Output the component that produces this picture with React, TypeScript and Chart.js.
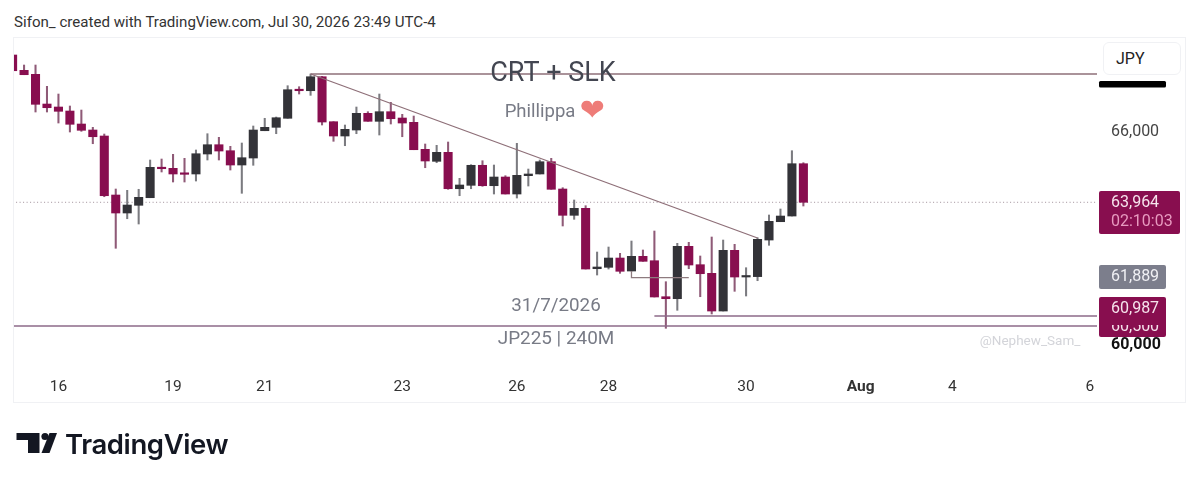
import React, { useEffect, useRef } from "react";
import { Chart, registerables } from "chart.js";

Chart.register(...registerables);

const opens = [68113,67682,67569,66732,66648,66535,66169,66000,65831,64169,63662,63879,64093,64949,64921,64780,64761,65324,65586,65417,65014,65211,65980,66076,66330,67127,67107,67501,66234,65831,66000,66470,66245,66516,66338,66217,65456,65118,65372,64346,64442,65006,64431,64676,64197,64713,64761,65107,64338,63597,63794,62093,62132,62394,62028,62442,62318,61304,61248,62724,62206,61963,60901,62611,61859,61870,62901,63417,63577,65051];
const closes = [67670,67558,66724,66628,66527,66161,65992,65811,64149,63662,63887,64104,64949,64910,64761,64752,65332,65586,65408,65014,65220,66000,66076,66346,67135,67107,67501,66225,65831,66020,66470,66245,66516,66318,66197,65445,65127,65372,64346,64451,65006,64431,64676,64197,64724,64761,65107,64330,63597,63794,62084,62141,62394,62020,62442,62301,61296,61248,62724,62197,61952,60901,62611,61859,61887,62921,63428,63577,65051,63964];
const highs = [68113,67831,67831,67231,67014,66676,66563,66076,65887,64338,64301,64330,65155,65183,65315,65203,65437,65896,65794,65541,65634,66113,66330,66366,67248,67220,67578,67510,66234,66141,66648,66516,67014,66780,66442,66394,65606,65569,65662,64639,65022,65135,65014,64713,65625,64901,65155,65203,64375,64028,63868,62563,62704,62527,62873,62620,63155,61727,62808,62836,62451,62986,62901,62780,62121,62966,63606,63775,65417,65079];
const lows = [67670,67558,66507,66507,66197,65944,65963,65614,64121,62668,63501,63352,64093,64817,64535,64535,64563,65155,65155,64873,64217,65006,65980,65896,66330,67014,66977,66141,65682,65558,65896,66245,65859,66169,65811,65445,64938,65079,64330,64149,64346,64414,64197,64197,64084,64422,64761,64330,63296,63484,62084,61915,62084,61963,62028,62301,61296,60414,60921,62093,61304,60817,60901,61456,61324,61755,62752,63417,63577,63859];

const xTickIndexes = [4, 14, 22, 34, 44, 52, 64, 74, 82, 94];
const xTickLabels = ["16", "19", "21", "23", "26", "28", "30", "Aug", "4", "6"];
const yTicks = [60000, 66000];

const lastClose = 63964;
const pdLow = 61889;
const tagPrice = 60987;
const hiddenTagPrice = 60479;

const flatTopPrice = 67578;
const trendEndPrice = 62958;
const sweepLevel = 60760;
const floorLevel = 60479;
const bracketLevel = 61839;
const bracketTop = 62028;

const MAROON = "#880E4F";
const DARK = "#333338";

const fmt = (v: number) => v.toLocaleString("en-US");

const overlay = {
  id: "overlay",
  afterDraw(chart: any) {
    const { ctx, scales } = chart;
    const y = scales.y;
    ctx.save();
    const font = "Roboto, sans-serif";
    const text = (s: string, x: number, yy: number, size: number, color: string, align: CanvasTextAlign = "center", weight = "400") => {
      ctx.font = `${weight} ${size}px ${font}`;
      ctx.fillStyle = color;
      ctx.textAlign = align;
      ctx.textBaseline = "middle";
      ctx.fillText(s, x, yy);
    };
    text("CRT + SLK", 553, 74, 27, "#434651");
    text("Phillippa", 540, 112, 18.5, "#787B86");
    ctx.font = "30px 'DejaVu Sans'";
    ctx.fillStyle = "#EE7C78";
    ctx.textAlign = "center";
    ctx.fillText("\u2764", 592, 112);
    text("31/7/2026", 556, 306, 18.8, "#787B86");
    text("JP225 | 240M", 556, 339, 18.9, "#787B86");
    text("@Nephew_Sam_", 1030, 342, 13.5, "#D3D4D9");

    ctx.fillStyle = "#000000";
    ctx.beginPath();
    ctx.roundRect(1099, 81, 67, 6.5, 1.5);
    ctx.fill();

    ctx.fillStyle = MAROON;
    ctx.beginPath();
    ctx.roundRect(1099, 191, 81, 43, 2);
    ctx.fill();
    text(fmt(lastClose), 1111, y.getPixelForValue(lastClose) + 1, 16, "#F6E3EC", "left");
    text("02:10:03", 1111, y.getPixelForValue(lastClose) + 20, 16, "#E79ABF", "left");

    ctx.fillStyle = "#7C7E8C";
    ctx.beginPath();
    ctx.roundRect(1099, 265, 67, 24, 2);
    ctx.fill();
    text(fmt(pdLow), 1111, y.getPixelForValue(pdLow) + 1, 16, "#F0F0F4", "left");

    ctx.fillStyle = MAROON;
    ctx.beginPath();
    ctx.roundRect(1099, 297, 67, 40, 2);
    ctx.fill();
    text(fmt(tagPrice), 1111, y.getPixelForValue(tagPrice) + 1, 16, "#F6E3EC", "left");
    ctx.save();
    ctx.beginPath();
    ctx.rect(1099, 325, 67, 12);
    ctx.clip();
    text("60,500", 1111, y.getPixelForValue(hiddenTagPrice) + 1, 16, "#F6E3EC", "left");
    ctx.restore();
    ctx.restore();
  },
};

export default function App() {
  const ref = useRef<HTMLCanvasElement | null>(null);

  useEffect(() => {
    if (!ref.current) return;
    const idx = opens.map((_, i) => i);
    const up = (i: number) => closes[i] >= opens[i];
    const chart = new Chart(ref.current, {
      type: "bar",
      plugins: [overlay],
      data: {
        datasets: [
          {
            label: "wicks",
            order: 3,
            data: idx.map((i) => ({ x: i, y: [lows[i], highs[i]] })),
            backgroundColor: idx.map((i) => (up(i) ? "#7B7B80" : "#8F5A77")),
            barThickness: 1.4,
            grouped: false,
            borderSkipped: false,
          },
          {
            label: "bodies",
            order: 2,
            data: idx.map((i) => ({ x: i, y: [Math.min(opens[i], closes[i]), Math.max(opens[i], closes[i])] })),
            backgroundColor: idx.map((i) => (up(i) ? DARK : MAROON)),
            barThickness: 8.4,
            minBarLength: 1.5,
            grouped: false,
            borderSkipped: false,
          },
          {
            type: "line",
            label: "flat top",
            order: 1,
            data: [{ x: 26, y: flatTopPrice }, { x: 95, y: flatTopPrice }],
            borderColor: "#8E6F78",
            borderWidth: 1.3,
            pointRadius: 0,
          },
          {
            type: "line",
            label: "trend",
            order: 1,
            data: [{ x: 26, y: flatTopPrice }, { x: 65, y: trendEndPrice }],
            borderColor: "#8E6F78",
            borderWidth: 1.3,
            pointRadius: 0,
          },
          {
            type: "line",
            label: "last close",
            order: 4,
            data: [{ x: 0, y: lastClose }, { x: 95, y: lastClose }],
            borderColor: "#9F8F99",
            borderWidth: 1,
            borderDash: [1, 2.5],
            pointRadius: 0,
          },
          {
            type: "line",
            label: "sweep",
            order: 1,
            data: [{ x: 56, y: sweepLevel }, { x: 95, y: sweepLevel }],
            borderColor: "#8D6A88",
            borderWidth: 1.3,
            pointRadius: 0,
          },
          {
            type: "line",
            label: "floor",
            order: 1,
            data: [{ x: 0, y: floorLevel }, { x: 95, y: floorLevel }],
            borderColor: "#8D6A88",
            borderWidth: 1.3,
            pointRadius: 0,
          },
          {
            type: "line",
            label: "bracket",
            order: 1,
            data: [{ x: 54, y: bracketTop }, { x: 54, y: bracketLevel }, { x: 59, y: bracketLevel }],
            borderColor: "#8E7B7F",
            borderWidth: 1.3,
            pointRadius: 0,
          },
        ] as any,
      },
      options: {
        animation: false,
        responsive: false,
        layout: { padding: { left: 14, top: 38, right: 14, bottom: 81 } },
        plugins: { legend: { display: false }, tooltip: { enabled: false }, title: { display: false } },
        scales: {
          x: {
            type: "linear",
            offset: false,
            min: 0.122,
            max: 94.62,
            grid: { display: false, drawTicks: false, offset: false },
            border: { display: false },
            afterBuildTicks: (s: any) => {
              s.ticks = xTickIndexes.map((value) => ({ value }));
            },
            afterFit: (s: any) => {
              s.height = 30;
              s.paddingLeft = 0;
              s.paddingRight = 0;
            },
            ticks: {
              autoSkip: false,
              maxRotation: 0,
              padding: 5,
              color: "#333333",
              font: (c: any) => ({
                family: "Roboto, sans-serif",
                size: 15.5,
                weight: xTickLabels[xTickIndexes.indexOf(c.tick?.value)] === "Aug" ? "700" : "400",
              }),
              callback: (v: any) => xTickLabels[xTickIndexes.indexOf(v)] ?? "",
            },
          },
          y: {
            type: "linear",
            position: "right",
            min: 59155,
            max: 68592,
            grid: { display: false, drawTicks: false },
            border: { display: false },
            afterBuildTicks: (s: any) => {
              s.ticks = yTicks.map((value) => ({ value }));
            },
            afterFit: (s: any) => {
              s.width = 89;
              s.paddingTop = 0;
              s.paddingBottom = 0;
            },
            ticks: {
              autoSkip: false,
              padding: 14,
              labelOffset: 1.5,
              color: (c: any) => (c.tick?.value === 60000 ? "#111111" : "#444444"),
              font: (c: any) => ({
                family: "Roboto, sans-serif",
                size: 16,
                weight: c.tick?.value === 60000 ? "700" : "400",
              }),
              callback: (v: any) => fmt(Number(v)),
            },
          },
        },
      } as any,
    });
    return () => chart.destroy();
  }, []);

  return (
    <div style={{ position: "absolute", left: 0, top: 0, width: 1200, height: 484, background: "#fff", overflow: "hidden", fontFamily: "Roboto, sans-serif" }}>
      <div style={{ position: "absolute", left: 14, top: 12, fontSize: 15.1, color: "#333", whiteSpace: "nowrap", lineHeight: "20px" }}>
        Sifon_ created with TradingView.com, Jul 30, 2026 23:49 UTC-4
      </div>
      <div style={{ position: "absolute", left: 13, top: 37, width: 1173, height: 366, border: "1px solid #F0F1F4", boxSizing: "border-box" }} />
      <canvas ref={ref} width={1200} height={484} style={{ position: "absolute", left: 0, top: 0, display: "block" }} />
      <div style={{ position: "absolute", left: 1103, top: 42, width: 78, height: 33, border: "1px solid #F0F1F4", borderRadius: 6, boxSizing: "border-box", background: "#fff", color: "#222", fontSize: 16, lineHeight: "31px", paddingLeft: 12 }}>
        JPY
      </div>
      <svg style={{ position: "absolute", left: 0, top: 425 }} width={64} height={35}>
        <path d="M16.5 8 H39.5 V28 H28 V15 H16.5 Z" fill="#131722" />
        <circle cx={45} cy={11.5} r={3.6} fill="#131722" />
        <path d="M49.5 8 H57 L49.5 28 H41.5 Z" fill="#131722" />
      </svg>
      <div style={{ position: "absolute", left: 65, top: 426, fontFamily: "Inter, sans-serif", fontWeight: 600, fontSize: 27.5, lineHeight: "36px", color: "#131722", letterSpacing: -0.4, whiteSpace: "nowrap" }}>
        TradingView
      </div>
    </div>
  );
}
